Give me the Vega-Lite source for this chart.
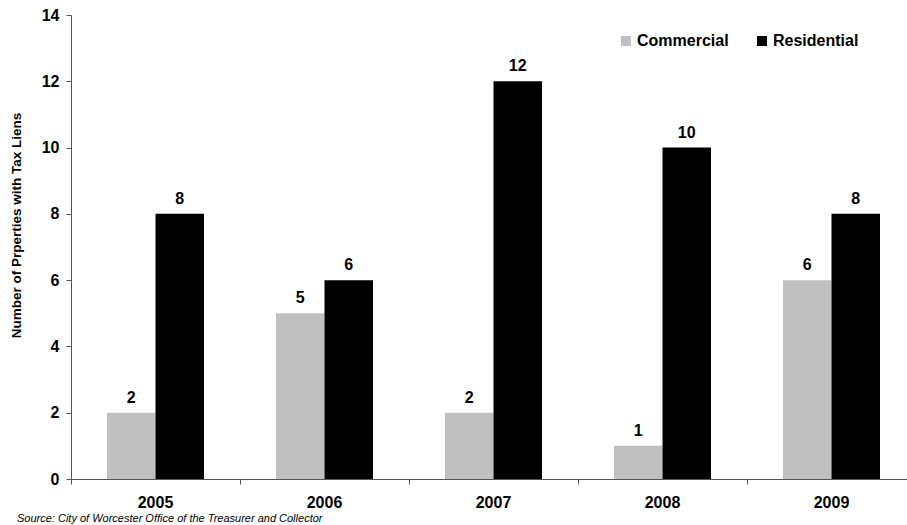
{
  "$schema": "https://vega.github.io/schema/vega-lite/v6.json",
  "width": 836,
  "height": 464,
  "autosize": {"type": "none"},
  "padding": {"left": 71, "top": 15, "right": 0, "bottom": 46},
  "background": "white",
  "config": {
    "view": {"stroke": null},
    "font": "Liberation Sans"
  },
  "title": {
    "text": "Source: City of Worcester Office of the Treasurer and Collector",
    "orient": "bottom",
    "anchor": "start",
    "frame": "group",
    "dx": -54,
    "offset": 3,
    "fontSize": 11,
    "fontStyle": "italic",
    "fontWeight": "normal",
    "font": "Liberation Sans",
    "color": "#000000"
  },
  "data": {
    "values": [
      {"year": "2005", "type": "Commercial", "count": 2},
      {"year": "2005", "type": "Residential", "count": 8},
      {"year": "2006", "type": "Commercial", "count": 5},
      {"year": "2006", "type": "Residential", "count": 6},
      {"year": "2007", "type": "Commercial", "count": 2},
      {"year": "2007", "type": "Residential", "count": 12},
      {"year": "2008", "type": "Commercial", "count": 1},
      {"year": "2008", "type": "Residential", "count": 10},
      {"year": "2009", "type": "Commercial", "count": 6},
      {"year": "2009", "type": "Residential", "count": 8}
    ]
  },
  "encoding": {
    "x": {
      "field": "year",
      "type": "nominal",
      "scale": {"range": [0, 845], "paddingInner": 0, "paddingOuter": 0},
      "axis": {
        "title": null,
        "labelAngle": 0,
        "bandPosition": 0,
        "domain": true,
        "ticks": true,
        "domainWidth": 1,
        "tickWidth": 1,
        "labelFontSize": 16,
        "labelFontWeight": "bold",
        "labelColor": "#000000",
        "labelPadding": 10,
        "tickSize": 5,
        "tickColor": "#555555",
        "domainColor": "#555555",
        "labelFont": "Liberation Sans"
      }
    },
    "xOffset": {
      "field": "type",
      "type": "nominal",
      "scale": {"paddingInner": 0, "paddingOuter": 0.742}
    },
    "y": {
      "field": "count",
      "type": "quantitative",
      "scale": {"domain": [0, 14]},
      "axis": {
        "title": "Number of Prperties with Tax Liens",
        "titleFontSize": 13.5,
        "titleFontWeight": "bold",
        "titleFont": "Liberation Sans",
        "titleColor": "#000000",
        "titleX": -55,
        "titleY": 210,
        "titleAlign": "center",
        "titleBaseline": "middle",
        "titleAngle": 270,
        "values": [0, 2, 4, 6, 8, 10, 12, 14],
        "grid": false,
        "domain": true,
        "ticks": true,
        "domainWidth": 1,
        "tickWidth": 1,
        "labelFontSize": 16,
        "labelFontWeight": "bold",
        "labelColor": "#000000",
        "labelPadding": 7,
        "tickSize": 5,
        "tickColor": "#555555",
        "domainColor": "#555555",
        "labelFont": "Liberation Sans"
      }
    }
  },
  "layer": [
    {
      "mark": {"type": "bar"},
      "encoding": {
        "color": {
          "field": "type",
          "type": "nominal",
          "scale": {"domain": ["Commercial", "Residential"], "range": ["#c0c0c0", "#000000"]},
          "legend": {
            "title": null,
            "orient": "none",
            "legendX": 547,
            "legendY": 18,
            "direction": "horizontal",
            "symbolType": "square",
            "symbolSize": 100,
            "symbolStrokeWidth": 0,
            "labelFontSize": 16,
            "labelFontWeight": "bold",
            "labelColor": "#000000",
            "labelFont": "Liberation Sans",
            "labelOffset": 3,
            "columnPadding": 25
          }
        }
      }
    },
    {
      "mark": {
        "type": "text",
        "baseline": "alphabetic",
        "dy": -10,
        "fontSize": 16,
        "fontWeight": "bold",
        "font": "Liberation Sans",
        "color": "#000000"
      },
      "encoding": {
        "text": {"field": "count", "type": "quantitative"}
      }
    }
  ]
}
